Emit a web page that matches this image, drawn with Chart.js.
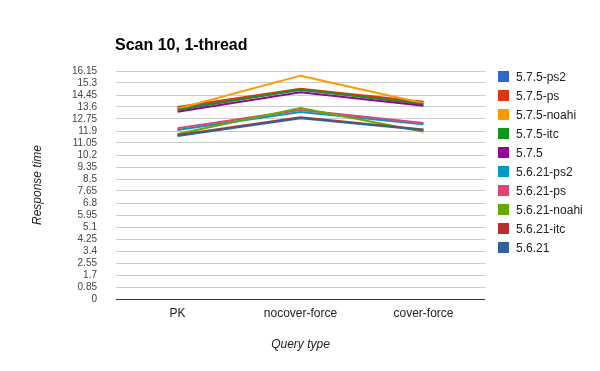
<!DOCTYPE html>
<html>
<head>
<meta charset="utf-8">
<script src="https://cdn.jsdelivr.net/npm/chart.js@4/dist/chart.umd.min.js"></script>
<style>
  html, body { margin: 0; padding: 0; background: #fff; }
  #wrap { position: relative; width: 600px; height: 371px; font-family: "Liberation Sans", Arial, sans-serif; }
  #title { position: absolute; left: 115px; top: 35px; font-size: 16px; font-weight: bold; color: #000; white-space: nowrap; line-height: 20px; }
  #legend { position: absolute; left: 498px; top: 0; }
  .item { position: absolute; left: 0; white-space: nowrap; font-size: 12px; color: #222; height: 14px; line-height: 14px; }
  .sw { position: absolute; left: 0; top: 1px; width: 11px; height: 11px; }
  .lbl { position: absolute; left: 18px; top: 0; }
</style>
</head>
<body>
<div id="wrap">
  <canvas id="c" width="600" height="371"></canvas>
  <div id="title">Scan 10, 1-thread</div>
  <div id="legend"></div>
</div>
<script>
const categories = ["PK", "nocover-force", "cover-force"];
const seriesNames = ["5.7.5-ps2", "5.7.5-ps", "5.7.5-noahi", "5.7.5-itc", "5.7.5",
                     "5.6.21-ps2", "5.6.21-ps", "5.6.21-noahi", "5.6.21-itc", "5.6.21"];
const seriesColors = ["#3366cc", "#dc3912", "#ff9900", "#109618", "#990099",
                      "#0099c6", "#dd4477", "#66aa00", "#b82e2e", "#316395"];
const s575ps2   = [13.52, 14.80, 13.92];
const s575ps    = [13.60, 14.90, 13.98];
const s575noahi = [13.48, 15.82, 13.86];
const s575itc   = [13.39, 14.84, 13.80];
const s575      = [13.27, 14.64, 13.69];
const s5621ps2  = [11.97, 13.25, 12.37];
const s5621ps   = [12.09, 13.39, 12.47];
const s5621noahi= [11.69, 13.53, 11.85];
const s5621itc  = [11.62, 12.87, 12.00];
const s5621     = [11.55, 12.80, 11.97];
const seriesValues = [s575ps2, s575ps, s575noahi, s575itc, s575,
                      s5621ps2, s5621ps, s5621noahi, s5621itc, s5621];
const yTickValues = [0, 0.85, 1.7, 2.55, 3.4, 4.25, 5.1, 5.95, 6.8, 7.65, 8.5, 9.35,
                     10.2, 11.05, 11.9, 12.75, 13.6, 14.45, 15.3, 16.15];
const yTickLabels = ["0", "0.85", "1.7", "2.55", "3.4", "4.25", "5.1", "5.95", "6.8", "7.65", "8.5", "9.35",
                     "10.2", "11.05", "11.9", "12.75", "13.6", "14.45", "15.3", "16.15"];
const xTitle = "Query type";
const yTitle = "Response time";

const n = seriesNames.length;
const datasets = seriesNames.map((name, i) => ({
  label: name,
  data: seriesValues[i],
  borderColor: seriesColors[i],
  backgroundColor: seriesColors[i],
  borderWidth: 2,
  pointRadius: 0,
  pointHoverRadius: 0,
  tension: 0,
  fill: false,
  order: n - i
}));

// HTML legend
const leg = document.getElementById('legend');
seriesNames.forEach((name, i) => {
  const it = document.createElement('div');
  it.className = 'item';
  it.style.top = (70 + 19 * i) + 'px';
  const sw = document.createElement('div');
  sw.className = 'sw';
  sw.style.background = seriesColors[i];
  const lb = document.createElement('div');
  lb.className = 'lbl';
  lb.textContent = name;
  it.appendChild(sw); it.appendChild(lb);
  leg.appendChild(it);
});

new Chart(document.getElementById('c'), {
  type: 'line',
  data: { labels: categories, datasets },
  options: {
    responsive: false,
    animation: false,
    devicePixelRatio: 1,
    layout: { padding: { top: 71, right: 115, left: 0, bottom: 0 } },
    plugins: { legend: { display: false }, tooltip: { enabled: false }, title: { display: false } },
    scales: {
      x: {
        offset: true,
        grid: { display: false, drawTicks: false },
        border: { display: false },
        ticks: { color: '#222', font: { family: '"Liberation Sans", Arial, sans-serif', size: 12 }, padding: 7, maxRotation: 0 },
        title: { display: true, text: xTitle, color: '#222',
                 font: { family: '"Liberation Sans", Arial, sans-serif', size: 12, style: 'italic' },
                 padding: { top: 0, bottom: 19 } },
        afterFit: s => { s.height = 72; }
      },
      y: {
        min: 0, max: 16.15,
        grid: { drawTicks: false, lineWidth: 1,
                color: ctx => (ctx.tick && ctx.tick.value === 0) ? '#333333' : '#cccccc' },
        border: { display: false },
        afterBuildTicks: s => { s.ticks = yTickValues.map(v => ({ value: v })); },
        ticks: {
          autoSkip: false,
          color: '#444',
          padding: 19,
          font: { family: '"Liberation Sans", Arial, sans-serif', size: 10 },
          callback: (v, i) => yTickLabels[i]
        },
        title: { display: true, text: yTitle, color: '#222',
                 font: { family: '"Liberation Sans", Arial, sans-serif', size: 12, style: 'italic' },
                 padding: { top: 30, bottom: 0 } },
        afterFit: s => { s.width = 116; }
      }
    }
  }
});
</script>
</body>
</html>
